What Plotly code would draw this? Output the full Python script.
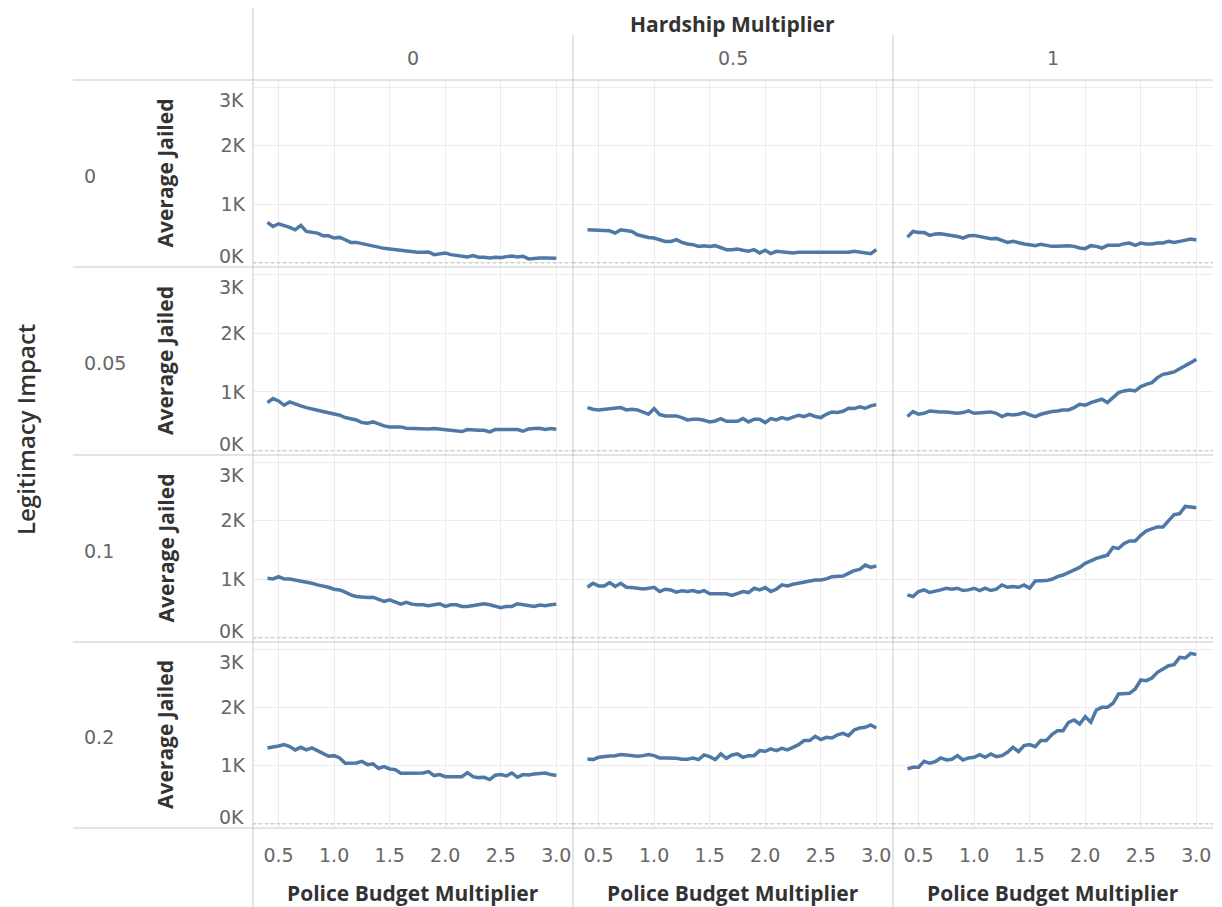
import plotly.graph_objects as go

# ---------------- data ----------------
budget = [0.40, 0.45, 0.50, 0.55, 0.60, 0.65, 0.70, 0.75, 0.80, 0.85, 0.90, 0.95,
          1.00, 1.05, 1.10, 1.15, 1.20, 1.25, 1.30, 1.35, 1.40, 1.45, 1.50, 1.55,
          1.60, 1.65, 1.70, 1.75, 1.80, 1.85, 1.90, 1.95, 2.00, 2.05, 2.10, 2.15,
          2.20, 2.25, 2.30, 2.35, 2.40, 2.45, 2.50, 2.55, 2.60, 2.65, 2.70, 2.75,
          2.80, 2.85, 2.90, 2.95, 3.00]

hardship = ["0", "0.5", "1"]
legitimacy = ["0", "0.05", "0.1", "0.2"]

li0_h0 = [690, 620, 667, 640, 605, 565, 640, 537, 520, 508, 463, 463, 424, 435, 395, 350,
          350, 328, 300, 282, 265, 248, 237, 226, 209, 192, 181, 181, 181, 186, 141, 153,
          170, 141, 130, 124, 102, 124, 96, 96, 85, 96, 90, 107, 119, 102, 113, 68, 79, 85,
          85, 85, 79]
li0_h05 = [565, 565, 565, 554, 548, 508, 565, 554, 537, 480, 452, 435, 424, 395, 367, 367,
           395, 350, 322, 311, 282, 294, 282, 294, 254, 226, 226, 237, 215, 198, 226, 170,
           215, 158, 198, 186, 170, 170, 181, 181, 181, 170, 181, 175, 170, 170, 175, 181,
           198, 186, 181, 158, 226]
li0_h1 = [440, 537, 520, 520, 469, 492, 497, 486, 469, 452, 424, 463, 469, 452, 429, 412,
          418, 384, 350, 367, 339, 322, 311, 294, 316, 299, 282, 282, 294, 294, 282, 254,
          243, 294, 282, 254, 299, 294, 299, 328, 339, 299, 339, 322, 322, 339, 339, 367,
          350, 367, 390, 407, 390]

li005_h0 = [819, 887, 847, 774, 830, 791, 763, 734, 718, 689, 667, 650, 621, 605, 565, 548,
            525, 480, 469, 491, 452, 424, 407, 407, 407, 384, 379, 379, 379, 373, 379, 367,
            356, 350, 339, 328, 362, 350, 350, 350, 322, 362, 362, 356, 362, 362, 333, 373,
            379, 384, 362, 379, 367]
li005_h05 = [734, 706, 695, 706, 706, 718, 734, 695, 706, 695, 650, 621, 718, 616, 593, 593,
             593, 565, 525, 537, 537, 520, 491, 508, 548, 503, 503, 503, 548, 491, 537, 537,
             480, 548, 525, 565, 537, 576, 605, 582, 621, 582, 565, 621, 661, 650, 672, 723,
             718, 746, 723, 763, 785]
li005_h1 = [582, 667, 621, 638, 678, 667, 661, 661, 650, 638, 650, 678, 638, 650, 650, 661,
            638, 582, 621, 610, 621, 650, 610, 582, 621, 650, 667, 678, 695, 695, 734, 791,
            774, 819, 847, 876, 819, 904, 989, 1017, 1034, 1017, 1090, 1130, 1158, 1243,
            1299, 1316, 1339, 1395, 1441, 1497, 1554]

li01_h0 = [1017, 1006, 1045, 1006, 1006, 989, 977, 960, 932, 904, 887, 864, 830, 819, 780,
           734, 706, 695, 689, 695, 650, 621, 650, 605, 576, 605, 576, 565, 565, 548, 559,
           582, 537, 565, 565, 537, 537, 548, 565, 582, 565, 537, 514, 537, 537, 582, 565,
           559, 537, 559, 548, 565, 576]
li01_h05 = [864, 932, 887, 887, 943, 876, 932, 864, 859, 847, 836, 847, 864, 791, 830, 819,
            780, 802, 791, 808, 780, 808, 751, 751, 751, 751, 723, 763, 791, 774, 847, 819,
            859, 791, 830, 904, 887, 915, 932, 960, 972, 989, 989, 1006, 1045, 1056, 1056,
            1102, 1147, 1169, 1243, 1203, 1226]
li01_h1 = [734, 706, 791, 819, 774, 791, 819, 847, 830, 847, 808, 819, 847, 808, 847, 808,
           830, 904, 864, 876, 864, 904, 847, 972, 977, 977, 1000, 1045, 1073, 1119, 1158,
           1203, 1271, 1316, 1356, 1384, 1412, 1542, 1525, 1610, 1655, 1655, 1751, 1825,
           1864, 1893, 1893, 2006, 2102, 2119, 2243, 2232, 2220]

li02_h0 = [1303, 1314, 1337, 1360, 1326, 1269, 1314, 1269, 1303, 1257, 1200, 1160, 1171,
           1131, 1040, 1040, 1046, 1074, 1017, 1029, 954, 983, 943, 931, 869, 869, 869, 869,
           874, 897, 829, 846, 811, 811, 811, 811, 880, 811, 794, 800, 760, 834, 846, 823,
           874, 800, 846, 840, 857, 869, 874, 846, 829]
li02_h05 = [1114, 1103, 1143, 1160, 1166, 1171, 1189, 1183, 1177, 1160, 1171, 1189, 1171,
            1131, 1131, 1131, 1126, 1109, 1109, 1131, 1103, 1183, 1154, 1103, 1200, 1126,
            1183, 1200, 1143, 1171, 1171, 1257, 1246, 1286, 1257, 1297, 1269, 1314, 1360,
            1429, 1429, 1503, 1446, 1486, 1474, 1526, 1554, 1514, 1611, 1646, 1657, 1697,
            1646]
li02_h1 = [943, 971, 971, 1074, 1040, 1069, 1131, 1097, 1109, 1171, 1097, 1131, 1143, 1189,
           1143, 1200, 1154, 1171, 1229, 1314, 1240, 1343, 1360, 1326, 1429, 1429, 1531,
           1600, 1600, 1743, 1783, 1714, 1840, 1743, 1954, 2000, 2000, 2069, 2229, 2229,
           2240, 2314, 2469, 2457, 2503, 2600, 2657, 2714, 2731, 2857, 2846, 2926, 2903]

panels = [
    [li0_h0, li0_h05, li0_h1],
    [li005_h0, li005_h05, li005_h1],
    [li01_h0, li01_h05, li01_h1],
    [li02_h0, li02_h05, li02_h1],
]

x_ticks = [0.5, 1.0, 1.5, 2.0, 2.5, 3.0]
y_ticks = [0, 1000, 2000, 3000]
y_tick_text = ["0K", "1K", "2K", "3K"]

# ---------------- layout geometry (pixels) ----------------
W, H = 1222, 907
col_edges = [(253, 573), (573, 893), (893, 1213)]
row_edges = [(80, 267), (267, 455), (455, 642), (642, 828)]

LINE = "#4e79a7"
GRID = "#ececec"
BORDER = "#c8c8c8"
TICKC = "#666666"
TITLEC = "#333333"
FONT = "Open Sans"
NUMFONT = "DejaVu Sans"
NUMSIZE = 19


def px_x(p):
    return p / W


def px_y(p):
    return 1 - p / H


fig = go.Figure()
layout = {}
shapes = []
annotations = []

idx = 0
for r in range(4):
    for c in range(3):
        idx += 1
        sfx = "" if idx == 1 else str(idx)
        xa, ya = "xaxis" + sfx, "yaxis" + sfx
        xr, yr = "x" + sfx, "y" + sfx
        fig.add_trace(go.Scatter(
            x=budget, y=panels[r][c], mode="lines",
            line=dict(color=LINE, width=3.5), xaxis=xr, yaxis=yr,
            showlegend=False, hoverinfo="x+y"))
        x0, x1 = col_edges[c]
        y0, y1 = row_edges[r]
        layout[xa] = dict(
            domain=[px_x(x0), px_x(x1)], anchor=yr, range=[0.27, 3.15],
            tickvals=x_ticks, tickformat=".1f", showgrid=True, gridcolor=GRID,
            gridwidth=1, zeroline=False, showline=False, ticks="",
            showticklabels=(r == 3), ticklabelstandoff=14,
            tickfont=dict(family=NUMFONT, size=NUMSIZE, color=TICKC))
        # inner tick labels (1K, 2K) on the axis; edge labels nudged inside below
        layout[ya] = dict(
            domain=[px_y(y1), px_y(y0)], anchor=xr, range=[-70, 3120],
            tickvals=y_ticks, ticktext=["", y_tick_text[1], y_tick_text[2], ""],
            showgrid=True, gridcolor=GRID, gridwidth=1, zeroline=False,
            showline=False, ticks="", showticklabels=(c == 0),
            ticklabelstandoff=7,
            tickfont=dict(family=NUMFONT, size=NUMSIZE, color=TICKC))
        if c == 0:
            for val, txt, shift in [(y_ticks[0], y_tick_text[0], 7),
                                    (y_ticks[3], y_tick_text[3], -13)]:
                annotations.append(dict(
                    text=txt, xref=xr + " domain", yref=yr, x=0, y=val,
                    xanchor="right", yanchor="middle", xshift=-7, yshift=shift,
                    showarrow=False,
                    font=dict(family=NUMFONT, size=NUMSIZE, color=TICKC)))
        # dotted zero line
        shapes.append(dict(type="line", xref=xr + " domain", yref=yr,
                           x0=0, x1=1, y0=0, y1=0,
                           line=dict(color="#bdbdbd", width=1, dash="dot")))

# borders
for yb in [80, 267, 455, 642, 828]:
    shapes.append(dict(type="line", xref="paper", yref="paper",
                       x0=px_x(73), x1=px_x(1213), y0=px_y(yb), y1=px_y(yb),
                       line=dict(color=BORDER, width=1)))
shapes.append(dict(type="line", xref="paper", yref="paper",
                   x0=px_x(253), x1=px_x(253), y0=px_y(8), y1=px_y(907),
                   line=dict(color=BORDER, width=1)))
for xb in [573, 893]:
    shapes.append(dict(type="line", xref="paper", yref="paper",
                       x0=px_x(xb), x1=px_x(xb), y0=px_y(35), y1=px_y(907),
                       line=dict(color=BORDER, width=1)))


def label(text, x, y, size, color, family=FONT, angle=0, xanchor="center",
          weight=None):
    f = dict(family=family, size=size, color=color)
    if weight:
        f["weight"] = weight
    annotations.append(dict(text=text, x=px_x(x), y=px_y(y), xref="paper",
                            yref="paper", xanchor=xanchor, yanchor="middle",
                            textangle=angle, showarrow=False, font=f))


# header texts
label("<b>Hardship Multiplier</b>", 733, 24, 21, TITLEC)
for c, lab in enumerate(hardship):
    cx = (col_edges[c][0] + col_edges[c][1]) / 2
    label(lab, cx, 58, NUMSIZE, TICKC, family=NUMFONT)
    label("<b>Police Budget Multiplier</b>", cx, 893, 21, TITLEC)

for r, lab in enumerate(legitimacy):
    cy = (row_edges[r][0] + row_edges[r][1]) / 2
    label(lab, 82, cy + 2, NUMSIZE, TICKC, family=NUMFONT, xanchor="left")
    label("<b>Average Jailed</b>", 165, cy, 21, TITLEC, angle=-90)

label("Legitimacy Impact", 25, 430, 24, TITLEC, angle=-90, weight=600)

fig.update_layout(
    width=W, height=H, margin=dict(l=0, r=0, t=0, b=0),
    paper_bgcolor="white", plot_bgcolor="white",
    shapes=shapes, annotations=annotations, **layout)

fig.write_html("out.html")
